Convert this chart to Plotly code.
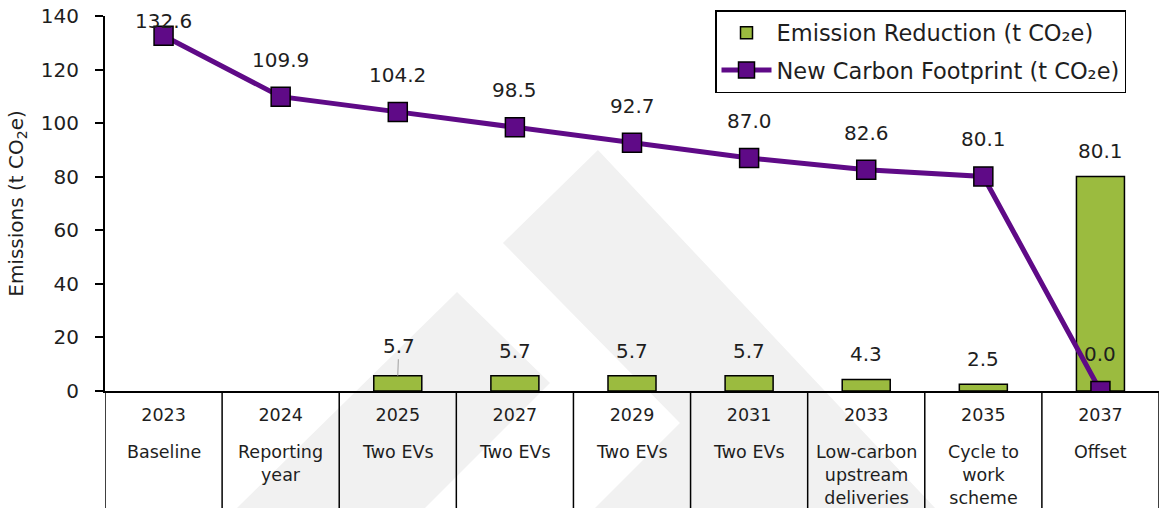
import plotly.graph_objects as go

# ---------------- data ----------------
years = ["2023", "2024", "2025", "2027", "2029", "2031", "2033", "2035", "2037"]
stages = ["Baseline", "Reporting<br>year", "Two EVs", "Two EVs", "Two EVs", "Two EVs",
          "Low-carbon<br>upstream<br>deliveries", "Cycle to<br>work<br>scheme", "Offset"]
reduction = [None, None, 5.7, 5.7, 5.7, 5.7, 4.3, 2.5, 80.1]
footprint = [132.6, 109.9, 104.2, 98.5, 92.7, 87.0, 82.6, 80.1, 0.0]
y_ticks = [0, 20, 40, 60, 80, 100, 120, 140]

GREEN = "#9BBB3F"
PURPLE = "#5F0A87"
TXT = "#1e1e1e"
FONT = "DejaVu Sans"

W, H = 1159, 508
ML, MR, MT, MB = 105, 0, 16, 117
PW, PH = W - ML - MR, H - MT - MB


def px(x):
    return (x - ML) / PW


def py(y):
    return (H - MB - y) / PH


fig = go.Figure()
fig.add_trace(go.Bar(
    x=years, y=reduction, name="Emission Reduction (t CO₂e)",
    marker=dict(color=GREEN, line=dict(color="black", width=1.5)),
    width=0.41, legendgroup="a",
))
fig.add_trace(go.Scatter(
    x=years, y=footprint, name="New Carbon Footprint (t CO₂e)",
    mode="lines+markers",
    line=dict(color=PURPLE, width=5),
    marker=dict(symbol="square", size=19, color=PURPLE, line=dict(color="black", width=1.5)),
    legendgroup="b",
))

annotations = []
# line labels (x as category index)
for i, v in enumerate(footprint):
    shift = 15 if i == 0 else 37
    annotations.append(dict(x=i, y=v, xref="x", yref="y", text=f"{v:.1f}", showarrow=False,
                            yanchor="middle", yshift=shift, font=dict(size=20, color=TXT, family=FONT)))
# bar labels
for i, v in enumerate(reduction):
    if v is None:
        continue
    if years[i] == "2025":
        annotations.append(dict(x=i, y=v, xref="x", yref="y", text=f"{v:.1f}", showarrow=True,
                                arrowhead=0, arrowwidth=1, arrowcolor="#a0a0a0", ax=1, ay=-30,
                                standoff=0, font=dict(size=20, color=TXT, family=FONT)))
    else:
        annotations.append(dict(x=i, y=v, xref="x", yref="y", text=f"{v:.1f}", showarrow=False,
                                yanchor="middle", yshift=25, font=dict(size=20, color=TXT, family=FONT)))
# stage labels under the years
for i, s in enumerate(stages):
    annotations.append(dict(x=i, y=py(440), xref="x", yref="paper", text=s, showarrow=False,
                            yanchor="top", font=dict(size=17.5, color=TXT, family=FONT)))

shapes = []
# watermark (decorative background)
wm = [
    [(457, 292), (550, 383), (425, 508), (237, 508)],
    [(598, 150), (503, 243), (680, 423), (595, 508), (935, 508)],
]
for poly in wm:
    path = "M " + " L ".join(f"{px(a):.4f},{py(b):.4f}" for a, b in poly) + " Z"
    shapes.append(dict(type="path", path=path, xref="paper", yref="paper",
                       fillcolor="#F1F1F1", line=dict(width=0), layer="below"))
# table separators below the axis
for i in range(len(years) + 1):
    shapes.append(dict(type="line", xref="x", yref="paper", x0=i - 0.5, x1=i - 0.5,
                       y0=0, y1=-MB / PH - 0.01, line=dict(color="black", width=1.5)))

fig.update_layout(
    width=W, height=H,
    margin=dict(l=ML, r=MR, t=MT, b=MB, autoexpand=False),
    paper_bgcolor="white", plot_bgcolor="rgba(0,0,0,0)",
    font=dict(family=FONT, color=TXT),
    barmode="overlay",
    showlegend=True,
    legend=dict(x=px(1126), y=py(10), xanchor="right", yanchor="top",
                bordercolor="black", borderwidth=1.5, bgcolor="white",
                font=dict(size=22.5, color=TXT, family=FONT),
                itemwidth=50,
                traceorder="grouped", tracegroupgap=5),
    annotations=annotations,
    shapes=shapes,
)
fig.update_xaxes(
    type="category", categoryorder="array", categoryarray=years,
    range=[-0.5, len(years) - 0.5],
    showline=True, linecolor="black", linewidth=2,
    ticks="", showgrid=False, zeroline=False,
    tickfont=dict(size=17.5, color=TXT, family=FONT), ticklabelstandoff=7,
)
fig.update_yaxes(
    range=[0, 140], tickvals=y_ticks, showgrid=False, zeroline=False,
    showline=True, linecolor="black", linewidth=2,
    ticks="outside", ticklen=8, tickwidth=1.5, tickcolor="black",
    tickfont=dict(size=20, color=TXT, family=FONT), ticklabelstandoff=12,
    title=dict(text="Emissions (t CO<sub>2</sub>e)", font=dict(size=20, color=TXT, family=FONT), standoff=12),
    automargin=False,
)

fig.write_html("out.html", config={"displayModeBar": False},
               post_script="document.body.style.margin='0';document.body.style.overflow='hidden';")
